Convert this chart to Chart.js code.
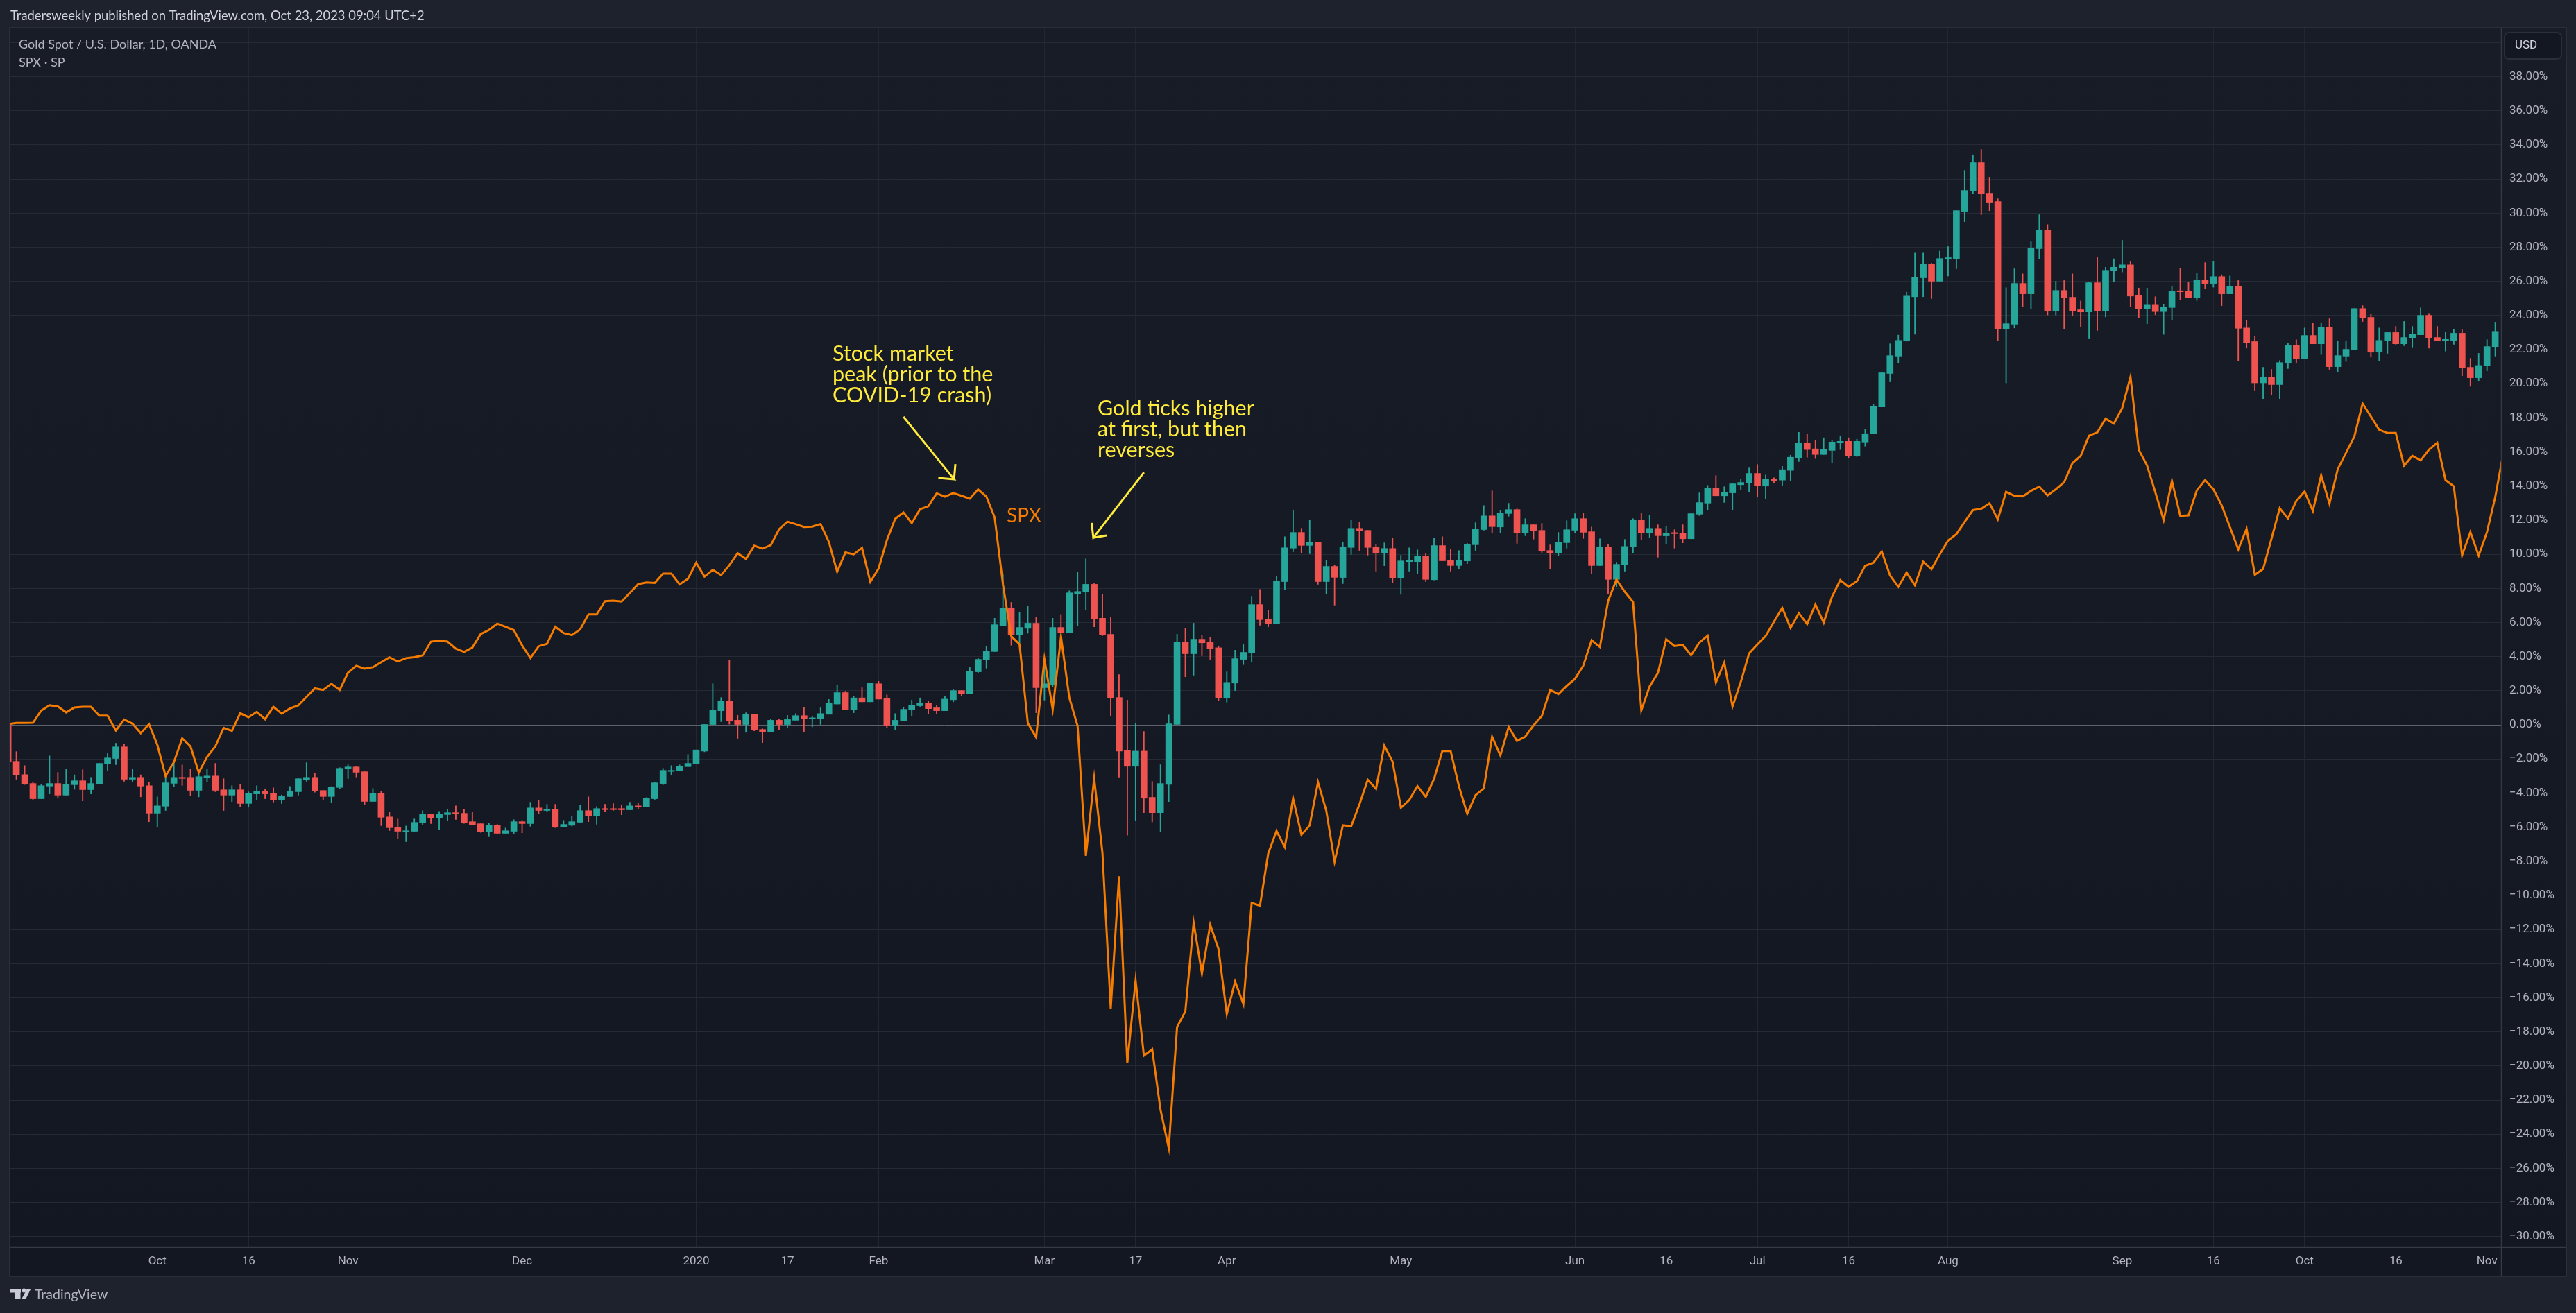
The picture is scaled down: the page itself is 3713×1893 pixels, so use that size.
<!DOCTYPE html>
<html><head><meta charset="utf-8"><title>Gold vs SPX</title>
<style>html,body{margin:0;padding:0;background:#1e222d;overflow:hidden}canvas{display:block}</style>
<script src="https://cdn.jsdelivr.net/npm/chart.js@4"></script></head>
<body><canvas id="c" width="3713" height="1893"></canvas>
<script>
const goldOpen=[0,
-2.14,-2.92,-3.44,-4.33,-3.59,-3.44,-4.12,-3.51,-3.28,-3.80,
-3.47,-2.29,-1.97,-1.29,-3.19,-3.08,-3.57,-5.18,-4.77,-3.43,
-3.08,-3.08,-3.84,-3.08,-3.00,-3.81,-4.12,-3.81,-4.61,-4.05,
-3.89,-4.01,-4.41,-4.20,-3.92,-3.20,-3.08,-3.85,-4.20,-3.67,
-2.58,-2.47,-2.75,-4.49,-4.01,-5.40,-6.01,-6.24,-6.24,-5.75,
-5.23,-5.46,-5.26,-5.15,-5.19,-5.68,-5.80,-6.28,-5.89,-6.36,
-6.24,-5.68,-5.79,-4.87,-5.02,-4.95,-5.97,-5.89,-5.71,-5.03,
-5.34,-4.91,-4.91,-4.91,-4.98,-4.75,-4.81,-4.33,-3.44,-2.71,
-2.70,-2.45,-2.28,-1.54,0,.83,1.39,.27,0,.62,
-.27,-.41,.27,0,.27,.54,.35,.35,.62,1.22,
1.89,.91,1.58,1.35,2.41,1.56,-.02,.23,.87,1.12,
1.29,1.00,.83,1.47,2.01,1.81,3.11,3.80,4.30,5.83,
6.85,5.27,5.66,5.96,2.18,2.37,5.71,5.42,7.70,7.78,
8.24,6.25,5.31,1.60,-1.49,-2.43,-1.54,-4.25,-5.15,-3.49,
.02,4.86,4.17,5.02,4.86,4.52,1.56,2.45,3.84,4.22,
7.05,6.20,5.95,8.40,10.36,11.28,10.52,10.71,8.40,9.29,
8.64,10.40,11.52,11.40,10.42,10.07,10.34,8.61,9.57,9.57,
9.90,8.51,10.51,9.65,9.34,9.61,10.56,11.45,12.25,11.60,
12.39,12.62,11.25,11.73,11.40,10.22,10.07,10.68,11.41,12.09,
11.32,9.34,10.42,8.53,9.37,10.44,12.01,11.24,11.52,11.08,
11.24,11.24,10.91,12.35,13.00,13.88,13.43,13.60,14.08,14.17,
14.74,14.00,14.41,14.35,14.92,15.65,16.54,16.18,15.85,16.09,
16.54,16.62,15.77,16.58,17.06,18.64,20.60,21.62,22.51,25.10,
26.21,27.03,26.01,27.30,27.34,30.11,31.29,32.96,31.17,30.68,
23.20,23.49,25.88,25.27,27.92,29.01,24.28,25.47,25.07,24.34,
24.21,25.92,24.28,26.61,26.79,26.97,25.19,24.38,24.61,24.23,
24.47,25.43,25.43,25.03,26.08,25.88,26.28,25.27,25.72,23.27,
22.47,20.05,20.38,19.95,21.20,22.25,21.47,22.83,22.34,23.32,
21.00,21.62,21.98,24.41,23.89,21.85,22.51,23.00,22.34,22.67,
22.87,24.01,22.71,22.54,22.54,22.96,20.96,20.35,21.04,22.14];
const goldHigh=[0,
-1.57,-2.39,-3.34,-3.49,-1.82,-2.79,-2.59,-2.93,-2.63,-3.08,
-2.26,-1.65,-1.08,-1.13,-2.59,-2.93,-3.36,-4.22,-2.97,-2.09,
-2.35,-2.59,-2.77,-2.60,-2.26,-3.16,-3.57,-3.49,-3.93,-3.57,
-3.77,-3.69,-4.11,-3.61,-3.12,-2.22,-2.83,-3.85,-3.62,-2.51,
-2.35,-2.43,-2.75,-3.73,-3.89,-5.11,-5.52,-5.93,-5.52,-5.03,
-5.23,-5.07,-4.95,-4.75,-4.95,-5.11,-5.80,-5.76,-5.84,-6.05,
-5.56,-5.61,-4.54,-4.42,-4.66,-4.66,-5.60,-5.36,-4.71,-4.22,
-4.79,-4.66,-4.62,-4.71,-4.54,-4.58,-4.26,-3.36,-2.55,-2.39,
-2.35,-1.74,-1.47,.02,2.41,1.60,3.80,.56,.71,.62,
-.23,.35,.35,.56,.66,1.04,.50,1.00,1.49,2.34,
1.97,1.66,2.18,2.47,2.55,1.76,.66,1.04,1.45,1.58,
1.37,1.16,1.66,2.10,2.01,3.36,3.92,4.61,6.25,8.84,
7.18,6.58,6.97,6.29,3.88,6.25,6.47,7.86,8.96,9.73,
8.28,7.66,6.33,2.95,1.45,.10,-.39,-3.32,-2.34,.58,
5.31,5.66,5.96,5.27,5.15,4.61,3.11,4.38,4.73,7.54,
7.94,6.72,8.72,11.03,12.58,11.52,12.01,10.71,9.65,9.37,
10.71,12.01,11.89,11.40,10.59,10.67,10.95,9.94,10.38,10.26,
10.06,10.95,11.03,10.30,10.22,10.64,11.85,12.86,13.72,12.58,
12.99,12.66,12.09,11.73,11.81,10.55,11.28,11.97,12.38,12.42,
11.60,10.91,10.59,9.53,10.87,12.09,12.42,12.30,11.73,11.64,
11.44,11.73,12.42,13.60,14.04,14.61,13.96,14.17,14.41,15.06,
15.26,14.65,14.49,15.16,15.81,17.15,17.03,16.66,16.83,16.66,
16.95,16.83,16.75,17.32,18.80,20.67,22.34,22.85,25.37,27.66,
27.66,27.06,27.77,28.04,30.15,32.51,33.42,33.73,32.11,30.84,
25.63,26.74,26.44,28.32,29.91,29.33,26.01,26.05,26.44,24.85,
25.95,27.43,26.83,27.33,28.41,27.15,25.61,25.61,25.10,24.65,
25.70,26.75,25.95,26.48,27.10,27.17,26.39,26.32,26.05,23.72,
22.78,20.96,20.84,21.36,22.38,22.58,23.27,23.56,23.58,23.81,
22.52,22.52,24.41,24.58,24.07,23.27,23.01,23.36,23.65,23.36,
24.45,24.12,23.36,23.00,23.20,23.16,21.49,21.78,22.58,23.61];
const goldLow=[-2.18,
-3.19,-3.50,-4.37,-4.33,-4.05,-4.29,-4.12,-3.78,-4.46,-4.05,
-3.47,-2.67,-2.33,-3.31,-3.35,-4.22,-5.68,-5.99,-5.02,-3.63,
-3.55,-4.14,-4.22,-3.35,-3.92,-5.02,-4.50,-4.81,-4.83,-4.42,
-4.33,-4.53,-4.61,-4.20,-4.12,-3.31,-3.95,-4.41,-4.57,-3.76,
-3.15,-3.06,-4.69,-4.49,-5.91,-6.20,-6.69,-6.85,-6.24,-5.87,
-5.79,-6.16,-5.63,-5.55,-5.78,-5.84,-6.31,-6.56,-6.40,-6.36,
-6.40,-6.33,-5.95,-5.22,-5.10,-6.03,-5.99,-5.93,-5.71,-5.68,
-5.83,-5.10,-5.02,-5.27,-4.98,-4.94,-4.81,-4.37,-3.51,-2.92,
-2.70,-2.45,-2.28,-1.58,0,.19,.04,-.79,-.44,-.35,
-1.04,-.41,-.27,-.17,.27,-.39,-.12,0,.62,1.22,
.87,.71,1.35,1.35,1.51,-.17,-.31,.23,.50,1.08,
.64,.64,.83,1.35,1.72,1.81,3.07,3.32,4.30,5.83,
4.67,4.81,5.37,.71,1.45,2.22,5.42,5.42,5.79,6.76,
5.75,5.23,.54,-3.07,-6.47,-5.60,-5.15,-5.69,-6.25,-4.50,
.02,2.82,2.91,4.05,3.84,1.43,1.33,2.01,3.53,3.67,
5.84,5.75,5.95,7.90,10.15,10.06,10.03,8.24,7.67,7.02,
8.28,9.99,10.23,9.95,9.01,9.33,8.32,7.65,9.01,8.84,
8.40,8.49,9.62,9.01,9.14,9.45,10.23,11.41,11.28,11.25,
12.23,10.64,11.09,10.89,10.11,9.14,9.91,10.36,11.28,10.93,
8.85,9.34,7.67,8.11,9.01,10.07,10.87,10.97,9.83,10.60,
10.36,10.67,10.91,12.27,12.58,13.43,13.04,12.58,13.76,13.68,
13.35,13.23,14.21,14.04,14.31,15.44,15.69,15.61,15.85,15.36,
16.14,15.65,15.73,16.34,17.06,18.64,20.11,21.22,22.49,22.90,
25.10,24.99,26.01,26.32,26.74,29.50,31.13,29.91,30.15,22.54,
20.05,23.27,24.52,24.39,27.34,24.03,24.03,23.20,23.98,23.36,
22.63,23.12,23.92,25.97,26.55,24.52,23.85,23.52,24.05,22.89,
23.72,24.92,25.03,24.88,25.57,25.66,24.58,25.27,21.33,22.09,
19.62,19.13,19.35,19.13,20.89,21.22,21.47,22.34,21.71,20.84,
20.71,21.31,21.98,23.65,21.56,21.33,21.78,22.31,22.23,22.11,
22.87,22.09,22.54,21.91,22.31,20.47,19.85,20.16,20.76,21.62];
const goldClose=[-2.18,
-2.94,-3.47,-4.33,-3.57,-3.44,-4.12,-3.49,-3.28,-3.80,-3.44,
-2.26,-1.94,-1.29,-3.19,-3.08,-3.59,-5.18,-4.75,-3.40,-3.08,
-3.12,-3.84,-3.04,-3.00,-3.84,-4.12,-3.81,-4.61,-4.01,-3.89,
-4.05,-4.41,-4.18,-3.89,-3.16,-3.08,-3.88,-4.20,-3.65,-2.55,
-2.47,-2.78,-4.49,-4.01,-5.42,-6.03,-6.24,-6.21,-5.72,-5.23,
-5.46,-5.23,-5.15,-5.22,-5.72,-5.84,-6.28,-5.89,-6.36,-6.21,
-5.68,-5.79,-4.87,-5.02,-4.95,-5.97,-5.84,-5.68,-5.03,-5.34,
-4.91,-4.95,-4.95,-4.98,-4.75,-4.81,-4.30,-3.40,-2.67,-2.67,
-2.43,-2.26,-1.47,.02,.87,1.39,.23,0,.62,-.31,
-.41,.27,0,.31,.54,.35,.41,.66,1.25,1.89,
.91,1.58,1.35,2.43,1.51,-.02,.27,.91,1.16,1.29,
.95,.83,1.51,2.01,1.81,3.15,3.84,4.34,5.87,6.85,
5.27,5.71,5.96,2.18,2.41,5.71,5.42,7.74,7.82,8.24,
6.23,5.27,1.56,-1.54,-2.43,-1.54,-4.30,-5.15,-3.44,.06,
4.86,4.17,5.02,4.81,4.48,1.56,2.49,3.88,4.25,7.05,
6.17,5.95,8.43,10.38,11.28,10.52,10.71,8.40,9.29,8.65,
10.42,11.52,11.37,10.40,10.07,10.34,8.61,9.61,9.61,9.90,
8.53,10.51,9.62,9.34,9.65,10.59,11.48,12.25,11.62,12.42,
12.62,11.25,11.73,11.37,10.18,10.07,10.71,11.44,12.09,11.29,
9.34,10.42,8.53,9.41,10.46,12.01,11.25,11.52,11.09,11.24,
11.21,10.91,12.38,13.03,13.88,13.43,13.64,14.13,14.21,14.74,
14.02,14.41,14.33,14.96,15.69,16.54,16.14,15.85,16.14,16.58,
16.62,15.77,16.62,17.07,18.68,20.64,21.65,22.54,25.14,26.25,
27.03,26.01,27.34,27.39,30.15,31.33,32.96,31.13,30.64,23.20,
23.52,25.88,25.27,27.95,29.01,24.28,25.47,25.03,24.28,24.21,
25.92,24.28,26.65,26.83,26.97,25.14,24.38,24.61,24.23,24.50,
25.43,25.39,25.03,26.08,25.88,26.28,25.27,25.72,23.25,22.41,
20.05,20.38,19.95,21.24,22.25,21.47,22.83,22.34,23.32,21.00,
21.65,22.02,24.41,23.85,21.85,22.54,23.00,22.34,22.71,22.91,
24.01,22.67,22.54,22.56,22.96,20.93,20.35,21.07,22.18,23.07];
const spxPercent=[.05,
.11,.11,.12,.84,1.15,1.08,.73,1.02,1.06,1.06,
.54,.54,-.33,.31,.07,-.49,.04,-1.17,-3.00,-2.18,
-.79,-1.26,-2.79,-1.88,-1.26,-.18,-.35,.68,.45,.76,
.33,1.06,.66,.96,1.14,1.64,2.14,2.05,2.41,2.05,
3.06,3.46,3.30,3.38,3.67,3.96,3.72,3.91,3.97,4.07,
4.88,4.94,4.88,4.47,4.28,4.53,5.32,5.56,5.93,5.75,
5.55,4.66,3.92,4.61,4.75,5.75,5.38,5.26,5.59,6.48,
6.48,7.25,7.28,7.23,7.74,8.25,8.35,8.32,8.87,8.87,
8.24,8.56,9.50,8.69,9.09,8.78,9.36,10.06,9.73,10.50,
10.33,10.54,11.47,11.91,11.77,11.60,11.62,11.77,10.73,8.98,
10.11,10.00,10.38,8.38,9.17,10.83,12.08,12.45,11.83,12.64,
12.82,13.57,13.38,13.59,13.43,13.26,13.80,13.38,12.16,8.24,
5.19,4.73,.10,-.73,3.86,.91,5.17,1.60,-.06,-7.68,
-3.13,-7.5,-16.63,-8.88,-19.82,-14.99,-19.39,-19.02,-22.56,-24.82,
-17.72,-16.8,-11.59,-14.58,-11.72,-13.14,-16.96,-15.05,-16.37,-10.44,
-10.6,-7.54,-6.22,-7.17,-4.31,-6.45,-5.89,-3.36,-5.03,-8.03,
-5.89,-5.95,-4.66,-3.22,-3.75,-1.21,-2.16,-4.86,-4.41,-3.59,
-4.22,-3.17,-1.53,-1.53,-3.6,-5.21,-4.12,-3.73,-.70,-1.79,
-.12,-.94,-.69,-.03,.52,2.05,1.80,2.28,2.70,3.47,
4.96,4.57,7.27,8.51,7.81,7.21,.85,2.25,3.04,5.02,
4.62,4.69,4.08,4.83,5.23,2.48,3.65,1.08,2.52,4.19,
4.72,5.21,6.05,6.86,5.68,6.55,5.91,7.06,5.99,7.51,
8.49,8.09,8.42,9.33,9.51,10.16,8.76,8.09,8.93,8.18,
9.56,9.13,10.0,10.81,11.18,11.9,12.59,12.67,12.99,12.05,
13.66,13.43,13.39,13.72,13.97,13.45,13.81,14.23,15.35,15.77,
16.95,17.15,17.95,17.66,18.57,20.4,16.13,15.21,13.63,12.0,
14.3,12.25,12.28,13.75,14.35,13.81,12.87,11.59,10.29,11.49,
8.8,9.14,10.9,12.7,12.1,13.12,13.68,12.54,14.63,12.97,
14.99,15.95,16.9,18.84,18.08,17.3,17.11,17.11,15.19,15.77,
15.5,16.13,16.53,14.35,13.99,9.94,11.3,9.92,11.3,13.36,
16];
const timeTickBars=[18,29,41,62,83,94,105,125,136,147,168,189,200,211,222,234,255,266,277,288,299];
const timeTickLabels=['Oct','16','Nov','Dec','2020','17','Feb','Mar','17','Apr','May','Jun','16','Jul','16','Aug','Sep','16','Oct','16','Nov'];
const percentTicks=[-30,-28,-26,-24,-22,-20,-18,-16,-14,-12,-10,-8,-6,-4,-2,0,2,4,6,8,10,12,14,16,18,20,22,24,26,28,30,32,34,36,38,40];
const peakArrow=[{x:108,y:18.06},{x:114.1,y:14.4},{x:112.2,y:14.48},{x:114.1,y:14.4},{x:114.26,y:15.29}];
const goldArrow=[{x:137,y:14.8},{x:130.9,y:10.97},{x:130.7,y:11.84},{x:130.9,y:10.97},{x:132.5,y:11.1}];

const UP='#26a69a',DOWN='#ef5350',SPX='#f57c00',NOTE='#ffeb3b';
const FONT='Lato, "Noto Sans", sans-serif';
const AXIS_FONT='Roboto, "Noto Sans", sans-serif';
const barColors=goldOpen.map((o,i)=>goldClose[i]>=o?UP:DOWN);
const wicks=goldOpen.map((o,i)=>({x:i,y:[goldLow[i],goldHigh[i]]}));
const bodies=goldOpen.map((o,i)=>({x:i,y:[Math.min(o,goldClose[i]),Math.max(o,goldClose[i])]}));
const spxPoints=spxPercent.map((v,i)=>({x:i,y:v}));

const chrome={id:'chrome',
 beforeDraw(ch){const c=ch.ctx,a=ch.chartArea;c.save();
  c.fillStyle='#1e222d';c.fillRect(0,0,ch.width,ch.height);
  const g=c.createLinearGradient(0,a.top,0,1839);g.addColorStop(0,'#181c27');g.addColorStop(1,'#131722');
  c.fillStyle=g;c.fillRect(a.left,a.top,3698-a.left,1839-a.top);c.restore();},
 afterDraw(ch){const c=ch.ctx,a=ch.chartArea;c.save();
  c.strokeStyle='#2a2e39';c.lineWidth=2;c.strokeRect(a.left-1,a.top-1,3698-a.left+2,1839-a.top+2);
  c.beginPath();c.moveTo(a.right+.5,a.top);c.lineTo(a.right+.5,1839);c.moveTo(a.left,a.bottom+.5);c.lineTo(3698,a.bottom+.5);c.lineWidth=1.5;c.strokeStyle='#363a45';c.stroke();
  c.textBaseline='middle';c.textAlign='left';
  c.font='18.4px '+FONT;c.fillStyle='#d1d4dc';
  c.fillText('Tradersweekly published on TradingView.com, Oct 23, 2023 09:04 UTC+2',15,23);
  c.fillStyle='#b2b5be';c.font='18px '+FONT;
  c.fillText('Gold Spot / U.S. Dollar, 1D, OANDA',27,64);
  c.fillText('SPX \u00b7 SP',27,90);
  c.beginPath();c.roundRect(3610,47,82,38,6);c.fillStyle='#131722';c.fill();c.strokeStyle='#2a2e39';c.lineWidth=2;c.stroke();
  c.fillStyle='#d1d4dc';c.font='17px '+AXIS_FONT;c.fillText('USD',3625,66);
  c.fillStyle='#b2b5be';c.font='19.5px '+FONT;c.fillText('TradingView',50,1867);
  c.fillStyle='#c8cbd3';c.fillRect(15,1858,15,5.5);c.fillRect(22,1858,7.5,15);
  c.beginPath();c.arc(34.5,1860.5,3,0,7);c.fill();
  c.beginPath();c.moveTo(39,1858);c.lineTo(44.5,1858);c.lineTo(37,1873);c.lineTo(31,1873);c.closePath();c.fill();
  c.font='30.5px '+FONT;c.fillStyle=NOTE;
  ['Stock market','peak (prior to the','COVID-19 crash)'].forEach((t,i)=>c.fillText(t,1200,510+i*30));
  ['Gold ticks higher','at first, but then','reverses'].forEach((t,i)=>c.fillText(t,1582,589+i*30));
  c.fillStyle=SPX;c.font='28px '+FONT;c.fillText('SPX',1451,744);
  c.restore();}};

new Chart(document.getElementById('c'),{type:'bar',
 data:{datasets:[
  {type:'line',data:spxPoints,borderColor:SPX,borderWidth:3,pointRadius:0,tension:0,order:0,borderJoinStyle:'miter'},
  {type:'line',data:peakArrow,borderColor:NOTE,borderWidth:3,pointRadius:0,tension:0,order:0},
  {type:'line',data:goldArrow,borderColor:NOTE,borderWidth:3,pointRadius:0,tension:0,order:0},
  {data:bodies,backgroundColor:barColors,barThickness:9,minBarLength:1.5,grouped:false,order:1},
  {data:wicks,backgroundColor:barColors,barThickness:1.2,grouped:false,order:2}]},
 options:{responsive:false,animation:false,devicePixelRatio:1,events:[],
  layout:{padding:{left:15,right:15,top:41,bottom:54}},
  plugins:{legend:{display:false},tooltip:{enabled:false},title:{display:false}},
  scales:{
   x:{type:'linear',offset:false,min:.28,max:300.7,position:'bottom',
    afterFit(s){s.height=41},
    afterBuildTicks(s){s.ticks=timeTickBars.map(v=>({value:v}))},
    grid:{color:'#22262f',lineWidth:1,drawTicks:false,offset:false},border:{display:false},
    ticks:{autoSkip:false,maxRotation:0,padding:11,color:'#b2b5be',font:{family:AXIS_FONT,size:17},
     callback:(v,i)=>timeTickLabels[i]}},
   y:{type:'linear',position:'right',min:-30.62,max:40.83,
    afterFit(s){s.width=93},
    afterBuildTicks(s){s.ticks=percentTicks.map(v=>({value:v}))},
    grid:{color:c=>c.tick&&c.tick.value===0?'#5f626d':'#262a35',lineWidth:1,drawTicks:false},border:{display:false},
    ticks:{autoSkip:false,padding:12,color:'#b2b5be',font:{family:AXIS_FONT,size:17},
     callback:v=>v===40?'':(v<0?'\u2212':'')+Math.abs(v).toFixed(2)+'%'}}}},
 plugins:[chrome]});
</script></body></html>
